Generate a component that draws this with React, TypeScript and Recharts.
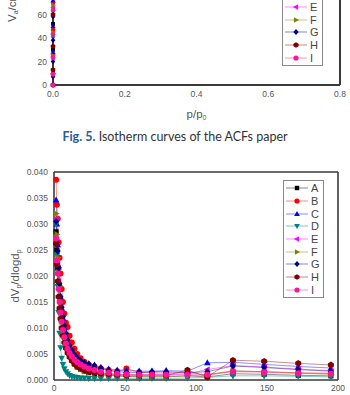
import React from 'react'
import { LineChart, Line, XAxis, YAxis, ReferenceLine, Label } from 'recharts'

// series meta
const seriesNames = ['A', 'B', 'C', 'D', 'E', 'F', 'G', 'H', 'I']
const seriesColors = ['#000000', '#ff0000', '#0000ff', '#008080', '#ff00ff', '#808000', '#000080', '#800000', '#ff1493']
const seriesShapes = ['square', 'circle', 'triUp', 'triDown', 'triLeft', 'triRight', 'diamond', 'hexagon', 'circle']

// Fig. 5 isotherms (only the bottom of it is on the page)
const isoP = [0, 0.00002, 0.00005, 0.0001, 0.0002, 0.0005, 0.002, 0.02, 0.1, 0.3, 0.5, 0.8]
const isoA = [0, 12, 30, 52, 75, 105, 140, 170, 185, 192, 196, 200]
const isoB = [0, 10, 26, 47, 70, 100, 135, 165, 180, 188, 192, 196]
const isoC = [0, 11, 28, 50, 72, 102, 138, 168, 182, 190, 194, 198]
const isoD = [0, 8, 22, 40, 62, 90, 125, 155, 170, 178, 182, 186]
const isoE = [0, 9, 24, 44, 66, 95, 130, 160, 175, 183, 187, 191]
const isoF = [0, 10, 25, 45, 68, 97, 132, 162, 177, 185, 189, 193]
const isoG = [0, 7, 20, 38, 58, 86, 120, 150, 165, 173, 177, 181]
const isoH = [0, 13, 33, 60, 82, 112, 148, 176, 190, 197, 201, 205]
const isoI = [0, 9, 23, 43, 64, 93, 128, 158, 173, 181, 185, 189]
const isoTicksX = [0, 0.2, 0.4, 0.6, 0.8]
const isoTicksY = [0, 20, 40, 60, 80, 100, 120, 140, 160, 180, 200, 220, 240]

// pore size distribution
const poreW = [1.5, 2.0, 2.6, 3.2, 3.9, 4.6, 5.4, 6.3, 7.3, 8.4, 9.6, 11.0, 12.6, 14.4, 16.4, 18.7, 21.3, 24.5, 28.5, 33, 38.5, 44.5, 51, 60, 69, 79, 94, 108, 126, 148, 172, 195]
const psdA = [0.0285, 0.025, 0.0215, 0.0185, 0.016, 0.0135, 0.0115, 0.0097, 0.0082, 0.0068, 0.0056, 0.0046, 0.0038, 0.0031, 0.0025, 0.0021, 0.0017, 0.0014, 0.0012, 0.001, 0.0009, 0.0008, 0.0007, 0.0006, 0.0006, 0.0006, 0.0008, 0.0006, 0.0012, 0.0011, 0.0009, 0.0008]
const psdB = [0.0385, 0.0337, 0.031, 0.0265, 0.0235, 0.0205, 0.0175, 0.015, 0.0128, 0.011, 0.0102, 0.0085, 0.0072, 0.006, 0.005, 0.0042, 0.0035, 0.0029, 0.0025, 0.0022, 0.0019, 0.0017, 0.0022, 0.0015, 0.0014, 0.0013, 0.0014, 0.001, 0.0017, 0.0016, 0.0014, 0.0013]
const psdC = [0.0346, 0.03, 0.026, 0.022, 0.0185, 0.016, 0.0138, 0.0118, 0.01, 0.0085, 0.0072, 0.0062, 0.0053, 0.0046, 0.004, 0.0035, 0.0031, 0.0028, 0.0026, 0.0024, 0.0021, 0.0019, 0.0018, 0.0017, 0.0017, 0.0018, 0.0017, 0.0033, 0.0034, 0.003, 0.0026, 0.0023]
const psdD = [0.03, 0.024, 0.018, 0.013, 0.009, 0.0062, 0.0042, 0.003, 0.0022, 0.0016, 0.0012, 0.0009, 0.0007, 0.0006, 0.0005, 0.0004, 0.0004, 0.0003, 0.0003, 0.0003, 0.0003, 0.0003, 0.0003, 0.0003, 0.0003, 0.0003, 0.0004, 0.0005, 0.0008, 0.0008, 0.0007, 0.0006]
const psdE = [0.031, 0.0268, 0.0225, 0.019, 0.016, 0.0135, 0.0113, 0.0095, 0.008, 0.0067, 0.0056, 0.0047, 0.004, 0.0034, 0.0029, 0.0025, 0.0021, 0.0018, 0.0015, 0.0013, 0.0012, 0.0011, 0.001, 0.001, 0.001, 0.001, 0.0012, 0.002, 0.0028, 0.0025, 0.0021, 0.0018]
const psdF = [0.032, 0.028, 0.0235, 0.0213, 0.018, 0.015, 0.0125, 0.0105, 0.0088, 0.0073, 0.006, 0.0049, 0.004, 0.0032, 0.0026, 0.0021, 0.0017, 0.0014, 0.0012, 0.001, 0.0009, 0.0008, 0.0007, 0.0007, 0.0007, 0.0007, 0.0008, 0.001, 0.0018, 0.0016, 0.0013, 0.0011]
const psdG = [0.0305, 0.0265, 0.0248, 0.0215, 0.0185, 0.016, 0.014, 0.0122, 0.0105, 0.009, 0.0077, 0.0066, 0.0057, 0.0049, 0.0042, 0.0037, 0.0033, 0.0031, 0.0028, 0.0023, 0.0018, 0.0016, 0.0015, 0.0014, 0.0016, 0.0016, 0.0014, 0.0016, 0.0027, 0.0024, 0.002, 0.0017]
const psdH = [0.0262, 0.0222, 0.019, 0.016, 0.0138, 0.0118, 0.01, 0.0085, 0.0072, 0.0061, 0.0052, 0.0044, 0.0037, 0.0031, 0.0026, 0.0022, 0.0019, 0.0016, 0.0014, 0.0012, 0.0011, 0.001, 0.0009, 0.0009, 0.0009, 0.0009, 0.0019, 0.0006, 0.0038, 0.0036, 0.0032, 0.0029]
const psdI = [0.0272, 0.023, 0.0205, 0.0175, 0.015, 0.013, 0.0112, 0.0096, 0.0082, 0.007, 0.006, 0.0052, 0.0045, 0.0039, 0.0034, 0.003, 0.0026, 0.0022, 0.0019, 0.0016, 0.0014, 0.0012, 0.0011, 0.001, 0.001, 0.001, 0.001, 0.001, 0.0016, 0.0015, 0.0013, 0.0012]
const psdTicksX = [0, 50, 100, 150, 200]
const psdTicksY = [0, 0.005, 0.01, 0.015, 0.02, 0.025, 0.03, 0.035, 0.04]

const isoSeries = [isoA, isoB, isoC, isoD, isoE, isoF, isoG, isoH, isoI]
const psdSeries = [psdA, psdB, psdC, psdD, psdE, psdF, psdG, psdH, psdI]

const isoData = isoP.map((p, i) => {
  const row: Record<string, number> = { x: p }
  seriesNames.forEach((n, k) => (row[n] = isoSeries[k][i]))
  return row
})
const psdData = poreW.map((w, i) => {
  const row: Record<string, number> = { x: w }
  seriesNames.forEach((n, k) => (row[n] = psdSeries[k][i]))
  return row
})

const FONT = '"Liberation Sans", Arial, sans-serif'
const tickStyle = { fontSize: 8.5, fill: '#555', fontFamily: FONT }
const frame = '#3a3a3a'

function Marker({ cx, cy, shape, color, r = 3 }: { cx: number; cy: number; shape: string; color: string; r?: number }) {
  if (cx == null || cy == null) return null
  const p = (pts: number[][]) => pts.map(([a, b]) => `${cx + a},${cy + b}`).join(' ')
  switch (shape) {
    case 'square':
      return <rect x={cx - r * 0.85} y={cy - r * 0.85} width={r * 1.7} height={r * 1.7} fill={color} />
    case 'triUp':
      return <polygon points={p([[0, -r * 1.2], [r * 1.1, r * 0.8], [-r * 1.1, r * 0.8]])} fill={color} />
    case 'triDown':
      return <polygon points={p([[0, r * 1.2], [r * 1.1, -r * 0.8], [-r * 1.1, -r * 0.8]])} fill={color} />
    case 'triLeft':
      return <polygon points={p([[-r * 1.2, 0], [r * 0.8, -r * 1.1], [r * 0.8, r * 1.1]])} fill={color} />
    case 'triRight':
      return <polygon points={p([[r * 1.2, 0], [-r * 0.8, -r * 1.1], [-r * 0.8, r * 1.1]])} fill={color} />
    case 'diamond':
      return <polygon points={p([[0, -r * 1.2], [r, 0], [0, r * 1.2], [-r, 0]])} fill={color} />
    case 'hexagon':
      return (
        <polygon
          points={p([[0, -r * 1.1], [r, -r * 0.5], [r, r * 0.5], [0, r * 1.1], [-r, r * 0.5], [-r, -r * 0.5]])}
          fill={color}
        />
      )
    default:
      return <circle cx={cx} cy={cy} r={r} fill={color} />
  }
}

// legend drawn as a plain box so the charts keep their full plot height
function LegendBox({ left, top }: { left: number; top: number }) {
  return (
    <div
      style={{
        position: 'absolute',
        left,
        top,
        border: '1px solid #888',
        background: '#fff',
        padding: '1px 3px 1px 1px',
      }}
    >
      {seriesNames.map((n, i) => (
        <div key={n} style={{ display: 'flex', alignItems: 'center', height: 12.7 }}>
          <svg width={24} height={12}>
            <line x1={1} y1={6} x2={23} y2={6} stroke={seriesColors[i]} strokeOpacity={0.6} strokeWidth={0.8} />
            <Marker cx={12} cy={6} shape={seriesShapes[i]} color={seriesColors[i]} r={2.6} />
          </svg>
          <span style={{ fontFamily: FONT, fontSize: 11, color: '#444', marginLeft: 2, lineHeight: '12px' }}>{n}</span>
        </div>
      ))}
    </div>
  )
}

function renderSeries(r: number) {
  return seriesNames.map((n, i) => (
    <Line
      key={n}
      type="linear"
      dataKey={n}
      stroke={seriesColors[i]}
      strokeOpacity={0.55}
      strokeWidth={0.8}
      isAnimationActive={false}
      dot={(d: any) => (
        <Marker key={`${n}-${d.index}`} cx={d.cx} cy={d.cy} shape={seriesShapes[i]} color={seriesColors[i]} r={r} />
      )}
      activeDot={false}
    />
  ))
}

export default function App() {
  return (
    <div style={{ position: 'absolute', left: 0, top: 0, width: 350, height: 395, overflow: 'hidden', background: '#fff' }}>
      {/* cut-off isotherm figure */}
      <div style={{ position: 'absolute', left: 0, top: 0, width: 350, height: 125, overflow: 'hidden' }}>
        <div style={{ position: 'absolute', left: 0, top: -202 }}>
          <LineChart width={350} height={327} data={isoData} margin={{ top: 5, right: 10, left: 9, bottom: 0 }}>
            <XAxis
              type="number"
              dataKey="x"
              domain={[0, 0.8]}
              ticks={isoTicksX}
              tickFormatter={(v: number) => v.toFixed(1)}
              tick={tickStyle}
              tickLine={false}
              tickSize={4}
              axisLine={{ stroke: frame, strokeWidth: 2 }}
              height={40}
            >
              <Label
                content={({ viewBox }: any) => (
                  <text x={viewBox.x + viewBox.width / 2} y={viewBox.y + 33} textAnchor="middle" fontFamily={FONT} fontSize={11.5} fill="#555">
                    p/p<tspan fontSize={7} dy={2}>0</tspan>
                  </text>
                )}
              />
            </XAxis>
            <YAxis
              type="number"
              domain={[0, 240]}
              ticks={isoTicksY}
              tick={tickStyle}
              tickLine={false}
              tickSize={4}
              axisLine={{ stroke: frame, strokeWidth: 2 }}
              width={44}
            >
              <Label
                content={() => (
                  <text x={0} y={0} transform="translate(16 224) rotate(-90)" fontFamily={FONT} fontSize={11.5} fill="#555">
                    V<tspan fontSize={7} dy={2}>a</tspan>
                    <tspan dy={-2}>/cm</tspan>
                    <tspan fontSize={7} dy={-4}>3</tspan>
                    <tspan dy={4}> g</tspan>
                    <tspan fontSize={7} dy={-4}>-1</tspan>
                  </text>
                )}
              />
            </YAxis>
            <ReferenceLine x={0.8} stroke={frame} strokeWidth={2} />
            {renderSeries(2.3)}
          </LineChart>
        </div>
        <LegendBox left={282} top={-52} />
      </div>

      <div
        style={{
          position: 'absolute',
          left: 0,
          top: 129,
          width: 350,
          textAlign: 'center',
          fontFamily: 'Lato, "Open Sans", sans-serif',
          fontSize: 12.5,
          color: '#333',
        }}
      >
        <span style={{ color: '#2a5c9a', fontWeight: 700 }}>Fig. 5.</span> Isotherm curves of the ACFs paper
      </div>

      {/* pore size distribution */}
      <div style={{ position: 'absolute', left: 0, top: 160 }}>
        <LineChart width={350} height={235} data={psdData} margin={{ top: 12, right: 12, left: 10, bottom: 0 }}>
          <XAxis
            type="number"
            dataKey="x"
            domain={[0, 200]}
            ticks={psdTicksX}
            tick={tickStyle}
            tickLine={false}
            tickSize={3}
            axisLine={{ stroke: frame, strokeWidth: 1.6 }}
            height={15}
          />
          <YAxis
            type="number"
            domain={[0, 0.04]}
            ticks={psdTicksY}
            tickFormatter={(v: number) => v.toFixed(3)}
            tick={tickStyle}
            tickLine={false}
            tickSize={4}
            axisLine={{ stroke: frame, strokeWidth: 1.6 }}
            width={44}
          >
            <Label
              content={({ viewBox }: any) => (
                <text
                  x={0}
                  y={0}
                  transform={`translate(19 ${viewBox.y + viewBox.height / 2}) rotate(-90)`}
                  textAnchor="middle"
                  fontFamily={FONT}
                  fontSize={11.5}
                  fill="#555"
                >
                  dV<tspan fontSize={7} dy={2}>p</tspan>
                  <tspan dy={-2}>/dlogd</tspan>
                  <tspan fontSize={7} dy={2}>p</tspan>
                </text>
              )}
            />
          </YAxis>
          <ReferenceLine x={200} stroke={frame} strokeWidth={1.6} />
          <ReferenceLine y={0.04} stroke={frame} strokeWidth={1.6} />
          {renderSeries(3)}
        </LineChart>
        <LegendBox left={283} top={20} />
      </div>
    </div>
  )
}
